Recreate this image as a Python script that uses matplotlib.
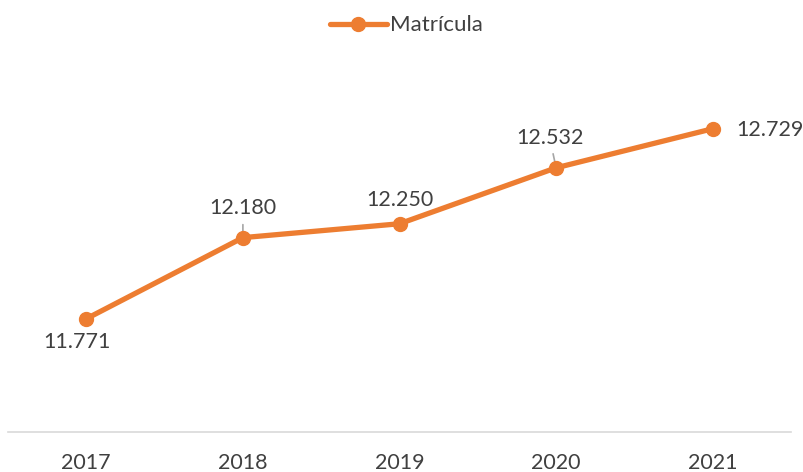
import matplotlib
matplotlib.use("Agg")
import matplotlib.pyplot as plt

years = ["2017", "2018", "2019", "2020", "2021"]
matricula = [11.771, 12.180, 12.250, 12.532, 12.729]
labels = ["11.771", "12.180", "12.250", "12.532", "12.729"]

orange = "#ED7D31"
textc = "#404040"
plt.rcParams['font.family'] = ['Lato', 'DejaVu Sans']

fig = plt.figure(figsize=(8.04, 4.72), dpi=100)
ax = fig.add_axes([8/804, 40/472, 783/804, 357/472])
x = list(range(len(years)))
ax.plot(x, matricula, color=orange, lw=3.8, marker='o', markersize=10,
        solid_capstyle='round', label="Matrícula", zorder=3)
ax.set_xlim(-0.5, 4.5)
ax.set_ylim(11.2, 13.0)
ax.set_yticks([])
ax.set_xticks(x)
ax.set_xticklabels(years, fontsize=15.5, color=textc)
ax.tick_params(axis='x', length=0, pad=15)
for s in ['top', 'right', 'left']:
    ax.spines[s].set_visible(False)
ax.spines['bottom'].set_color('#D9D9D9')
ax.spines['bottom'].set_linewidth(1.2)

px = 0.72  # points per pixel at 100 dpi
offsets = [(-9, -23, 'center'), (0, 30, 'center'), (0, 24, 'center'), (-6, 30, 'center'), (24, -1, 'center')]
for i, (v, lab) in enumerate(zip(matricula, labels)):
    dx, dy, va = offsets[i]
    ha = 'left' if i == 4 else 'center'
    ax.annotate(lab, (i, v), xytext=(dx * px, dy * px), textcoords='offset points',
                ha=ha, va=va, fontsize=15.5, color=textc)
# leader lines
ax.annotate("", (1, 12.180), xytext=(0, 13 * px), textcoords='offset points',
            arrowprops=dict(arrowstyle='-', color='#A6A6A6', lw=1.2,
                            shrinkA=0, shrinkB=0), zorder=2)
ax.annotate("", (3, 12.532), xytext=(-3 * px, 14 * px), textcoords='offset points',
            arrowprops=dict(arrowstyle='-', color='#A6A6A6', lw=1.2,
                            shrinkA=0, shrinkB=0), zorder=2)

leg = fig.legend(loc='upper center', bbox_to_anchor=(0.505, 1.01), frameon=False,
                 fontsize=16, handlelength=2.6, handletextpad=0.1, labelcolor=textc)
fig.savefig("out.png", dpi=100)
